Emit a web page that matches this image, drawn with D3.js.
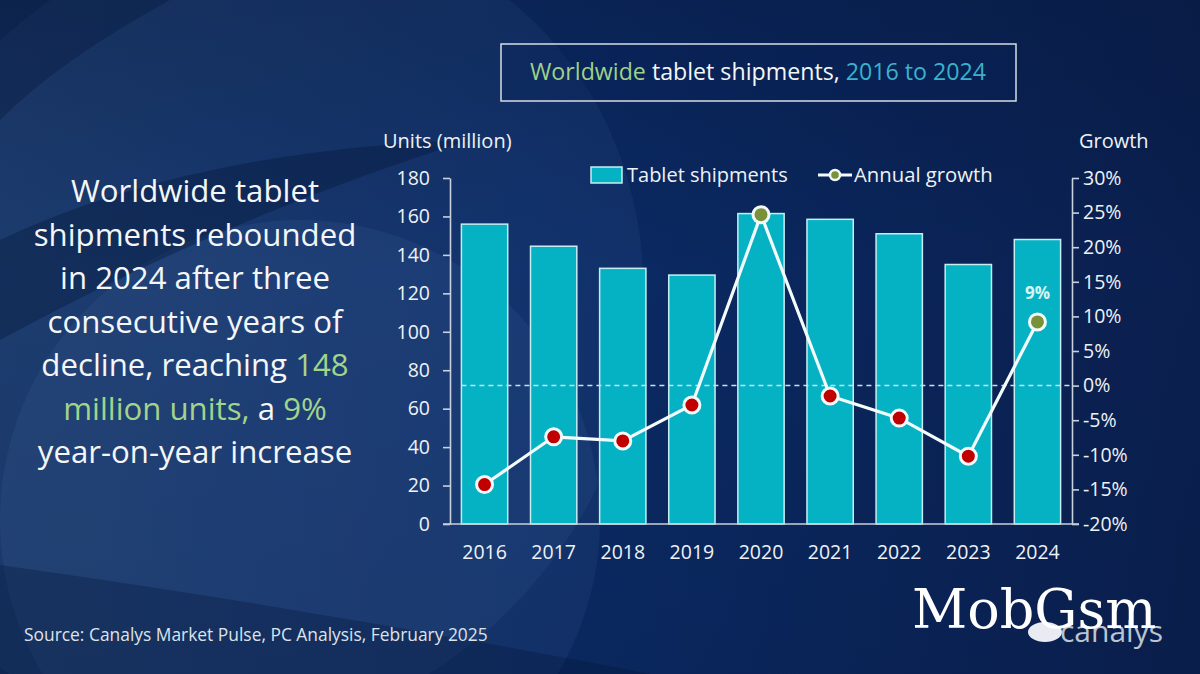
<!DOCTYPE html>
<html>
<head>
<meta charset="utf-8">
<script src="https://cdn.jsdelivr.net/npm/d3@7"></script>
<style>
  html, body { margin: 0; padding: 0; background: #0a2458; }
  svg { display: block; }
</style>
</head>
<body>
<script>
// ---------------- DATA ----------------
const years = ["2016", "2017", "2018", "2019", "2020", "2021", "2022", "2023", "2024"];
const shipments = [156, 144.5, 133, 129.5, 161.5, 158.5, 151, 135, 148];   // million units
const growth = [-14.3, -7.4, -8.0, -2.8, 24.7, -1.5, -4.7, -10.2, 9.2];   // % YoY
const unitTicks = [0, 20, 40, 60, 80, 100, 120, 140, 160, 180];
const growthTicks = [-20, -15, -10, -5, 0, 5, 10, 15, 20, 25, 30];
const highlightLabel = "9%";
const bodyLines = [
  [["Worldwide tablet", "w"]],
  [["shipments rebounded", "w"]],
  [["in 2024 after three", "w"]],
  [["consecutive years of", "w"]],
  [["decline, reaching ", "w"], ["148", "g"]],
  [["million units,", "g"], [" a ", "w"], ["9%", "g"]],
  [["year-on-year increase", "w"]]
];
const titleParts = [["Worldwide ", "g"], ["tablet shipments, ", "w"], ["2016 to 2024", "c"]];
const sourceText = "Source: Canalys Market Pulse, PC Analysis, February 2025";

// ---------------- SETUP ----------------
const W = 1200, H = 674;
const FONT = "'Open Sans', 'Noto Sans', sans-serif";
const svg = d3.select("body").append("svg").attr("width", W).attr("height", H);
const defs = svg.append("defs");

const bgGrad = defs.append("linearGradient").attr("id", "bg").attr("x1", 0).attr("y1", 0).attr("x2", 1).attr("y2", 0);
bgGrad.append("stop").attr("offset", "0%").attr("stop-color", "#173668");
bgGrad.append("stop").attr("offset", "45%").attr("stop-color", "#0b2b66");
bgGrad.append("stop").attr("offset", "100%").attr("stop-color", "#0a1f4e");

const vGrad = defs.append("linearGradient").attr("id", "vshade").attr("x1", 0).attr("y1", 0).attr("x2", 0).attr("y2", 1);
vGrad.append("stop").attr("offset", "0%").attr("stop-color", "#061638").attr("stop-opacity", 0.35);
vGrad.append("stop").attr("offset", "40%").attr("stop-color", "#061638").attr("stop-opacity", 0);
vGrad.append("stop").attr("offset", "100%").attr("stop-color", "#061638").attr("stop-opacity", 0.15);

// background
svg.append("rect").attr("width", W).attr("height", H).attr("fill", "url(#bg)");
svg.append("rect").attr("width", W).attr("height", H).attr("fill", "url(#vshade)");

// swoosh shapes
const bgG = svg.append("g");
bgG.append("ellipse").attr("cx", 250).attr("cy", 330).attr("rx", 380).attr("ry", 420)
  .attr("transform", "rotate(35 250 330)").attr("fill", "#6f9ad8").attr("opacity", 0.07);
bgG.append("circle").attr("cx", 300).attr("cy", 520).attr("r", 300)
  .attr("fill", "#7aa3e0").attr("opacity", 0.07);
bgG.append("path").attr("d", "M0,240 Q190,150 470,140 Q230,215 0,340 Z")
  .attr("fill", "#041434").attr("opacity", 0.35);
bgG.append("path").attr("d", "M0,0 L170,0 Q60,60 0,120 Z")
  .attr("fill", "#041434").attr("opacity", 0.3);
bgG.append("path").attr("d", "M0,565 Q320,610 650,674 L0,674 Z")
  .attr("fill", "#041434").attr("opacity", 0.3);

// ---------------- SCALES ----------------
const x = d3.scaleBand().domain(years).range([450, 1072]).paddingInner(0.33).paddingOuter(0.165);
const yL = d3.scaleLinear().domain([0, 180]).range([524, 178]);
const yR = d3.scaleLinear().domain([-20, 30]).range([524, 178]);

const axisColor = "#c9d1dc";
const textColor = "#eef2f6";

// ---------------- BARS ----------------
const data = years.map((y, i) => ({ year: y, units: shipments[i], growth: growth[i] }));
svg.append("g").selectAll("rect").data(data).join("rect")
  .attr("x", d => x(d.year))
  .attr("y", d => yL(d.units))
  .attr("width", x.bandwidth())
  .attr("height", d => yL(0) - yL(d.units))
  .attr("fill", "#05b2c4")
  .attr("stroke", "#c6eef2")
  .attr("stroke-width", 1.5);

// zero growth dashed line
svg.append("line")
  .attr("x1", x(years[0])).attr("x2", 1072)
  .attr("y1", yR(0)).attr("y2", yR(0))
  .attr("stroke", "#bfe6f2").attr("stroke-width", 1.5).attr("stroke-dasharray", "5,4");

// ---------------- AXES ----------------
const styleAxis = g => {
  g.selectAll("path.domain").attr("stroke", axisColor).attr("stroke-width", 1.6);
  g.selectAll(".tick line").attr("stroke", axisColor).attr("stroke-width", 1.6);
  g.selectAll("text").attr("fill", textColor).attr("font-family", FONT).attr("font-size", 19.5);
};

svg.append("g").attr("transform", "translate(450,0)")
  .call(d3.axisLeft(yL).tickValues(unitTicks).tickSize(7).tickSizeOuter(0).tickPadding(13))
  .call(styleAxis);

svg.append("g").attr("transform", "translate(1072,0)")
  .call(d3.axisRight(yR).tickValues(growthTicks).tickFormat(d => d + "%").tickSize(7).tickSizeOuter(0).tickPadding(4))
  .call(styleAxis);

svg.append("g").attr("transform", "translate(0,524)")
  .call(d3.axisBottom(x).tickSize(0).tickPadding(21))
  .call(styleAxis)
  .call(g => g.selectAll("path.domain").attr("d", "M443,0H1079"));

// ---------------- LINE ----------------
const line = d3.line().x(d => x(d.year) + x.bandwidth() / 2).y(d => yR(d.growth));
svg.append("path").datum(data).attr("d", line)
  .attr("fill", "none").attr("stroke", "#f4fbfc").attr("stroke-width", 3.2);

svg.append("g").selectAll("circle").data(data).join("circle")
  .attr("cx", d => x(d.year) + x.bandwidth() / 2)
  .attr("cy", d => yR(d.growth))
  .attr("r", 8)
  .attr("fill", d => d.growth >= 0 ? "#77923a" : "#c00000")
  .attr("stroke", "#f4f8f8").attr("stroke-width", 3);

// highlight label
svg.append("text")
  .attr("x", x(years[8]) + x.bandwidth() / 2)
  .attr("y", yR(growth[8]) - 23)
  .attr("text-anchor", "middle")
  .attr("font-family", FONT).attr("font-weight", 700).attr("font-size", 17)
  .attr("fill", "#d9f2f4")
  .text(highlightLabel);

// ---------------- AXIS TITLES ----------------
svg.append("text").attr("x", 383).attr("y", 148).attr("font-family", FONT).attr("font-size", 20)
  .attr("fill", textColor).text("Units (million)");
svg.append("text").attr("x", 1079).attr("y", 148).attr("font-family", FONT).attr("font-size", 20)
  .attr("fill", textColor).text("Growth");

// ---------------- LEGEND ----------------
const lg = svg.append("g");
lg.append("rect").attr("x", 591).attr("y", 167).attr("width", 31).attr("height", 16)
  .attr("fill", "#05b2c4").attr("stroke", "#c6eef2").attr("stroke-width", 1.5);
lg.append("text").attr("x", 627).attr("y", 182).attr("font-family", FONT).attr("font-size", 20)
  .attr("fill", textColor).text("Tablet shipments");
lg.append("line").attr("x1", 818).attr("x2", 852).attr("y1", 175).attr("y2", 175)
  .attr("stroke", "#f4fbfc").attr("stroke-width", 3);
lg.append("circle").attr("cx", 835).attr("cy", 175).attr("r", 5)
  .attr("fill", "#77923a").attr("stroke", "#f4f8f8").attr("stroke-width", 2.5);
lg.append("text").attr("x", 854).attr("y", 182).attr("font-family", FONT).attr("font-size", 20.3)
  .attr("fill", textColor).text("Annual growth");

// ---------------- TITLE BOX ----------------
svg.append("rect").attr("x", 501).attr("y", 44).attr("width", 515).attr("height", 57)
  .attr("fill", "#0a2258").attr("fill-opacity", 0.35)
  .attr("stroke", "#d6dde6").attr("stroke-width", 1.5);
const colorMap = { w: "#f4f6f8", g: "#9fd18a", c: "#3bb1cc" };
const tt = svg.append("text").attr("x", 758).attr("y", 80).attr("text-anchor", "middle")
  .attr("font-family", FONT).attr("font-size", 23.2).style("white-space", "pre");
tt.selectAll("tspan").data(titleParts).join("tspan")
  .attr("fill", d => colorMap[d[1]]).text(d => d[0]);

// ---------------- BODY TEXT ----------------
const body = svg.append("g");
bodyLines.forEach((parts, i) => {
  const t = body.append("text").attr("x", 195).attr("y", 202 + i * 43.5)
    .attr("text-anchor", "middle").attr("font-family", FONT).attr("font-size", 31.2)
    .style("white-space", "pre");
  t.selectAll("tspan").data(parts).join("tspan")
    .attr("fill", d => d[1] === "g" ? "#a3d48c" : "#f4f6f8").text(d => d[0]);
});

// ---------------- SOURCE ----------------
svg.append("text").attr("x", 24).attr("y", 641).attr("font-family", FONT).attr("font-size", 17.4)
  .attr("fill", "#dde3ea").text(sourceText);

// ---------------- LOGOS ----------------
svg.append("ellipse").attr("cx", 1045).attr("cy", 632).attr("rx", 17).attr("ry", 10)
  .attr("fill", "#e8ecf2");
svg.append("text").attr("x", 1060).attr("y", 642).attr("font-family", FONT).attr("font-size", 30)
  .attr("fill", "#bcc4cf").text("canalys");
svg.append("text").attr("x", 912).attr("y", 628).attr("font-family", "'DejaVu Serif', serif")
  .attr("font-size", 54).attr("fill", "#ffffff").text("MobGsm");
</script>
</body>
</html>
